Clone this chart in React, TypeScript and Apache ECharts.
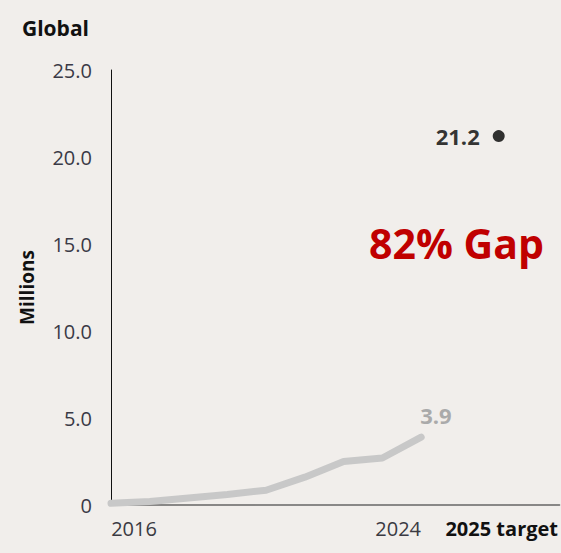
import React, { useEffect, useRef } from "react";
import * as echarts from "echarts";

const years = ["2016", "2017", "2018", "2019", "2020", "2021", "2022", "2023", "2024"];
const actualValues = [0.1, 0.2, 0.4, 0.6, 0.85, 1.6, 2.5, 2.7, 3.9];
const targetLabel = "2025 target";
const targetValue = 21.2;
const gapText = "82% Gap";
const yTicks = [0, 5, 10, 15, 20, 25];

export default function App() {
  const ref = useRef<HTMLDivElement>(null);
  useEffect(() => {
    if (!ref.current) return;
    const chart = echarts.init(ref.current, undefined, { renderer: "svg" });
    const targetIndex = years.length + 1;
    const lineData = actualValues.map((v, i) => [i, v]);
    const lastValue = actualValues[actualValues.length - 1];
    chart.setOption({
      animation: false,
      backgroundColor: "#f1eeeb",
      grid: { left: 111, right: 0, top: 70, bottom: 48, containLabel: false },
      title: {
        text: "Global",
        left: 17,
        top: 12,
        textStyle: { fontFamily: "Open Sans", fontWeight: "bold", fontSize: 21, color: "#111" },
      },
      xAxis: {
        type: "value",
        min: 0,
        max: 11.57,
        interval: 1,
        splitLine: { show: false },
        axisTick: { show: false },
        axisLine: { show: true, lineStyle: { color: "#666", width: 1.5 } },
        axisLabel: {
          margin: 13,
          showMaxLabel: false,
          formatter: (v: number) => {
            if (v === 0) return "{l|" + years[0] + "}";
            if (v === years.length - 1) return "{r|" + years[years.length - 1] + "}";
            if (v === targetIndex) return "{t|" + targetLabel + "}";
            return "";
          },
          rich: {
            l: { fontFamily: "Open Sans", fontSize: 20, color: "#3a3a42", padding: [0, 0, 0, 46] },
            r: { fontFamily: "Open Sans", fontSize: 20, color: "#3a3a42", padding: [0, 46, 0, 0] },
            t: { fontFamily: "Open Sans", fontSize: 20, color: "#111", fontWeight: "bold", padding: [0, 0, 0, 6] },
          },
        },
      },
      yAxis: {
        type: "value",
        min: yTicks[0],
        max: yTicks[yTicks.length - 1],
        interval: 5,
        name: "Millions",
        nameLocation: "middle",
        nameGap: 75,
        nameTextStyle: { fontFamily: "Open Sans", fontWeight: "bold", fontSize: 19, color: "#111" },
        splitLine: { show: false },
        axisTick: { show: false },
        axisLine: { show: true, lineStyle: { color: "#111", width: 1 } },
        axisLabel: {
          margin: 19,
          fontFamily: "Open Sans",
          fontSize: 20,
          color: "#3a3a46",
          formatter: (v: number) => (v === 0 ? "0" : v.toFixed(1)),
        },
      },
      series: [
        {
          type: "line",
          data: lineData,
          symbol: "none",
          lineStyle: { color: "#c8c8c8", width: 7, cap: "round", join: "round" },
          z: 3,
          endLabel: {
            show: true,
            offset: [-9, -22],
            formatter: String(lastValue),
            color: "#aaaaaa",
            fontSize: 22,
            fontWeight: "bold",
            fontFamily: "Open Sans",
          },
        },
        {
          type: "scatter",
          data: [[targetIndex, targetValue]],
          symbolSize: 12,
          itemStyle: { color: "#000" },
          label: {
            show: true,
            position: "left",
            distance: 13,
            formatter: String(targetValue),
            color: "#000",
            fontSize: 22,
            fontWeight: "bold",
            fontFamily: "Open Sans",
          },
        },
      ],
      graphic: [
        {
          type: "text",
          left: 369,
          top: 222,
          style: {
            text: gapText,
            fill: "#c00000",
            font: "bold 41px 'Open Sans'",
          },
        },
      ],
    });
    return () => chart.dispose();
  }, []);
  return <div ref={ref} style={{ width: 561, height: 553, position: "absolute", left: 0, top: 0 }} />;
}
